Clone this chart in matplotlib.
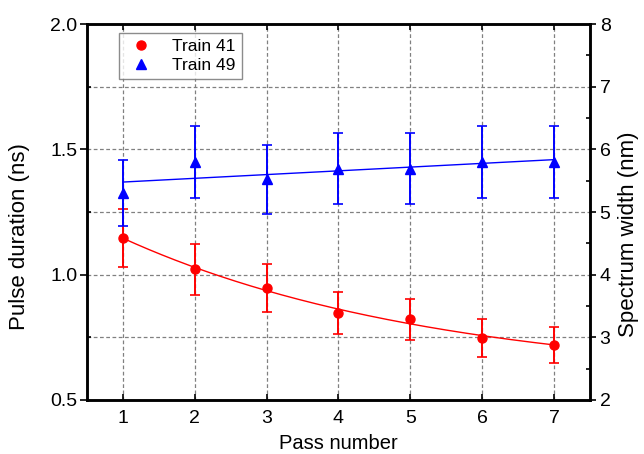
import numpy as np
import matplotlib
matplotlib.use("Agg")
import matplotlib.pyplot as plt
from matplotlib.lines import Line2D
from matplotlib.ticker import MultipleLocator

plt.rcParams['font.family'] = ['Liberation Sans', 'DejaVu Sans']

passes = [1, 2, 3, 4, 5, 6, 7]
train41_duration = [1.148, 1.022, 0.946, 0.848, 0.822, 0.747, 0.721]
train41_err = [0.116, 0.102, 0.095, 0.083, 0.082, 0.075, 0.072]
train49_width = [5.30, 5.80, 5.52, 5.69, 5.69, 5.80, 5.80]
train49_err = [0.53, 0.58, 0.55, 0.57, 0.57, 0.58, 0.58]
legend_labels = ["Train 41", "Train 49"]

RED = "#ff0000"
BLUE = "#0000ff"

x = np.array(passes, dtype=float)
yr = np.array(train41_duration)
yb = np.array(train49_width)

# exponential decay fit for Train 41
best = None
for k in np.linspace(0.01, 2.0, 2000):
    M = np.column_stack([np.ones_like(x), np.exp(-k * x)])
    coef, res, *_ = np.linalg.lstsq(M, yr, rcond=None)
    r = np.sum((M @ coef - yr) ** 2)
    if best is None or r < best[0]:
        best = (r, k, coef)
_, kb, cb = best
xf = np.linspace(1, 7, 200)
yr_fit = cb[0] + cb[1] * np.exp(-kb * xf)

# linear fit for Train 49
pb = np.polyfit(x, yb, 1)
yb_fit = np.polyval(pb, xf)

fig = plt.figure(figsize=(6.44, 4.54), dpi=100)
ax = fig.add_axes([0.135, 0.119, 0.781, 0.828])
ax2 = ax.twinx()

ax.set_xlim(0.5, 7.5)
ax.set_ylim(0.5, 2.0)
ax2.set_ylim(2, 8)

ax.xaxis.set_major_locator(MultipleLocator(1))
ax.yaxis.set_major_locator(MultipleLocator(0.5))
ax.yaxis.set_minor_locator(MultipleLocator(0.25))
ax2.yaxis.set_major_locator(MultipleLocator(1))
ax2.yaxis.set_minor_locator(MultipleLocator(0.5))

grid_kw = dict(color="#808080", linestyle=(0, (3, 2)), linewidth=0.9)
ax.grid(True, axis='x', which='major', **grid_kw)
ax.grid(True, axis='y', which='both', **grid_kw)
ax.set_axisbelow(True)

ax.errorbar(x, yr, yerr=train41_err, fmt='o', color=RED, ms=6.5,
            capsize=3.5, elinewidth=1.4, capthick=1.2, zorder=3)
ax.plot(xf, yr_fit, color=RED, lw=1.0, zorder=3)

ax2.errorbar(x, yb, yerr=train49_err, fmt='^', color=BLUE, ms=7.5,
             capsize=3.5, elinewidth=1.4, capthick=1.2, zorder=3)
ax2.plot(xf, yb_fit, color=BLUE, lw=1.0, zorder=3)

for a in (ax, ax2):
    for s in a.spines.values():
        s.set_linewidth(1.8)
        s.set_color('black')

ax.tick_params(axis='x', which='major', direction='in', top=True, bottom=True,
               length=4, width=1.2, labelsize=14, pad=7)
ax.tick_params(axis='y', which='major', direction='out', length=5, width=1.2,
               labelsize=14, pad=2)
ax.tick_params(axis='y', which='minor', direction='in', length=3, width=1.2)
ax2.tick_params(axis='y', which='major', direction='out', length=4, width=1.2,
                labelsize=14, pad=3)
ax2.tick_params(axis='y', which='minor', direction='in', length=3, width=1.2)

ax.set_yticks([0.5, 1.0, 1.5, 2.0])
ax.set_yticklabels(["0.5", "1.0", "1.5", "2.0"])

ax.set_xlabel("Pass number", fontsize=14.5, labelpad=5)
ax.set_ylabel("Pulse duration (ns)", fontsize=16)
ax2.set_ylabel("Spectrum width (nm)", fontsize=16)
ax.yaxis.set_label_coords(-0.113, 0.434)
ax2.yaxis.set_label_coords(1.056, 0.44)

handles = [Line2D([], [], marker='o', color=RED, linestyle='none', ms=6.5),
           Line2D([], [], marker='^', color=BLUE, linestyle='none', ms=7.5)]
leg = ax2.legend(handles, legend_labels, loc='upper left',
                 bbox_to_anchor=(0.064, 0.976), borderaxespad=0,
                 fancybox=False, frameon=True,
                 edgecolor="#707070", fontsize=12.5, handletextpad=0.9,
                 borderpad=0.35, labelspacing=0.2, handlelength=1.8)
leg.get_frame().set_linewidth(1.0)
leg.set_zorder(10)

fig.savefig("out.png", dpi=100)
